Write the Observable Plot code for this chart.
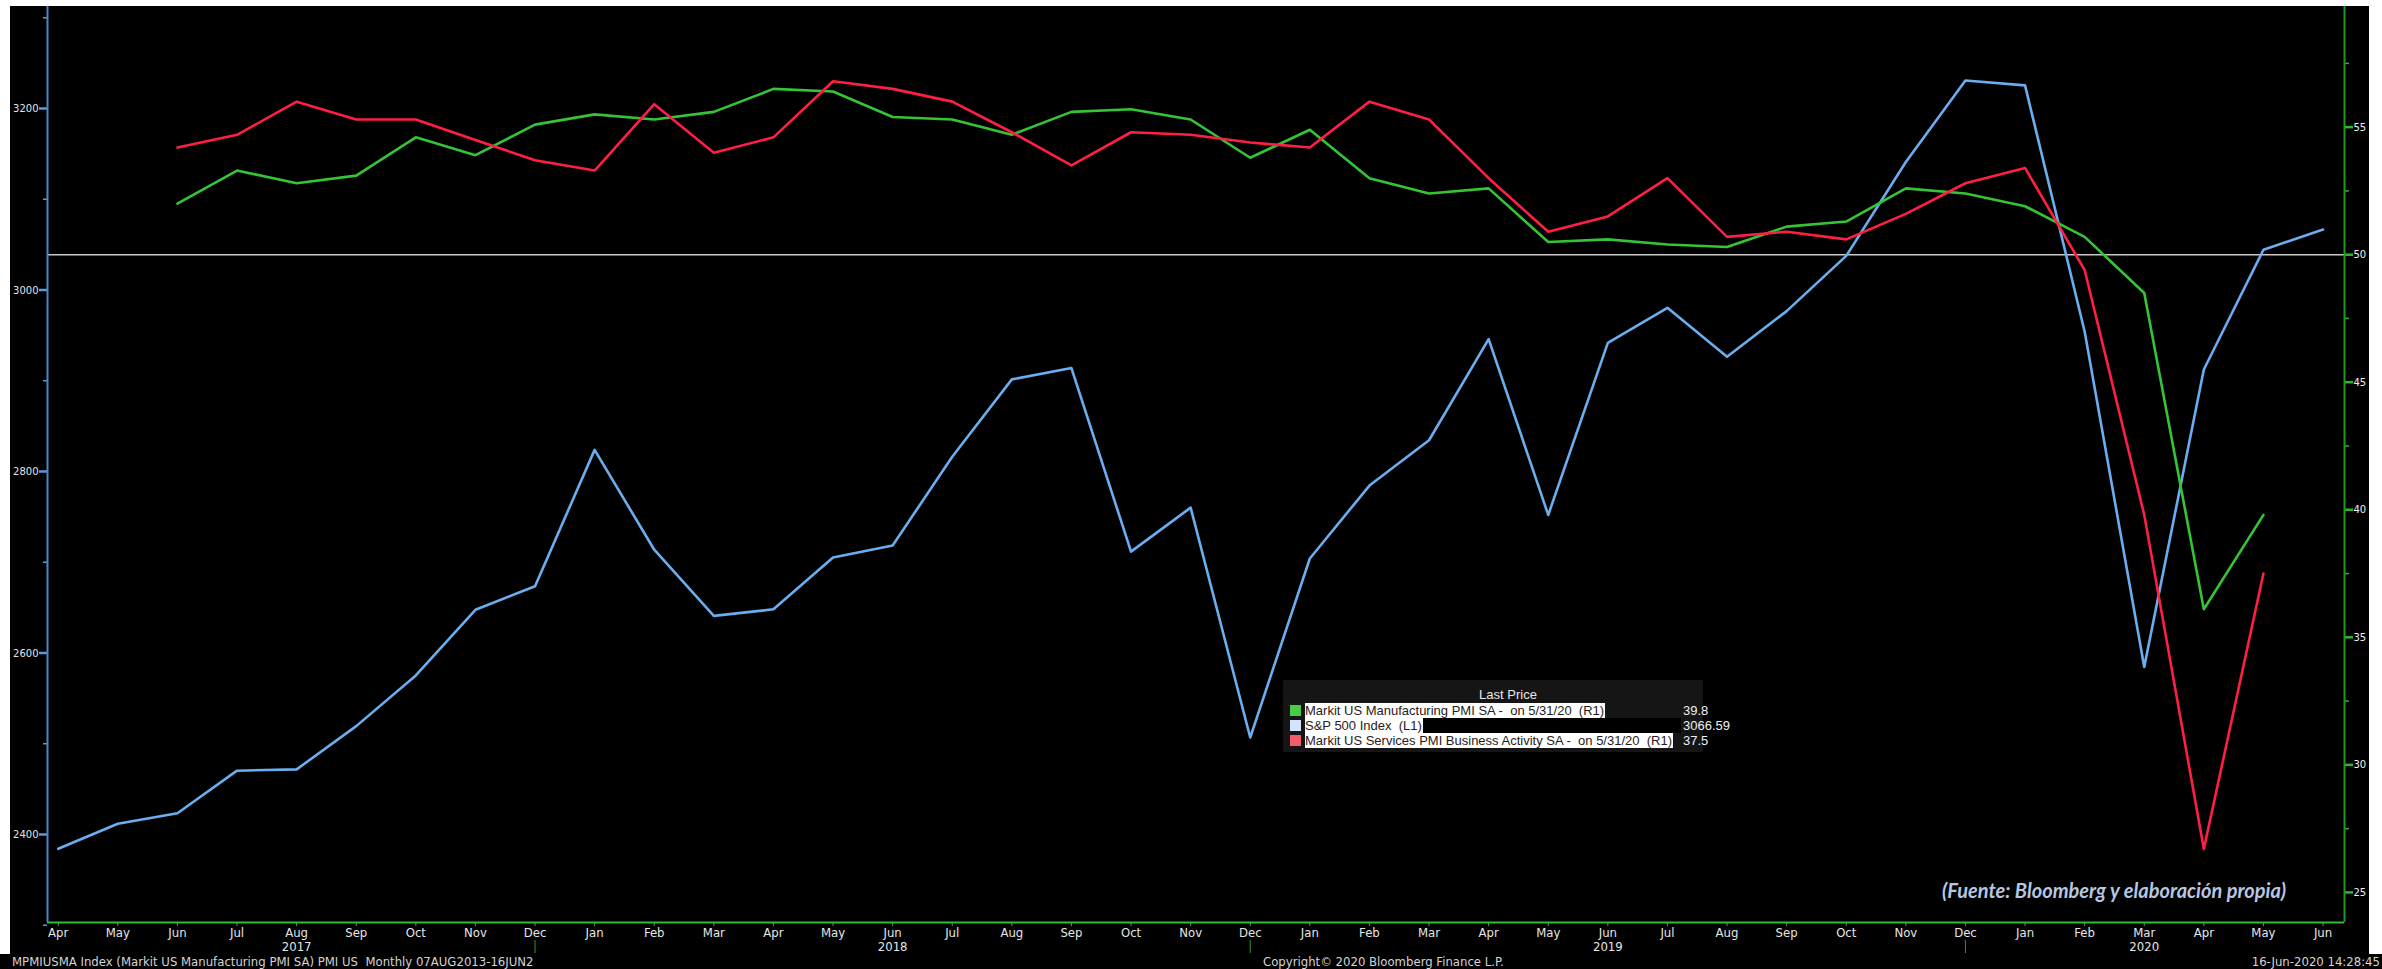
<!DOCTYPE html>
<html>
<head>
<meta charset="utf-8">
<script src="https://cdn.jsdelivr.net/npm/d3@7"></script>
<script src="https://cdn.jsdelivr.net/npm/@observablehq/plot@0.6"></script>
<style>
html,body{margin:0;padding:0;background:#fff;width:2382px;height:969px;overflow:hidden;}
#page{position:relative;width:2382px;height:969px;}
#bg{position:absolute;left:10px;top:6px;width:2359px;height:963px;background:#000;}
#foot{position:absolute;left:0;top:954px;width:2382px;height:15px;background:#000;}
#chart{position:absolute;left:10px;top:6px;}
.ft{position:absolute;top:954px;font-family:'Liberation Sans Narrow','DejaVu Sans Condensed',sans-serif;font-size:13px;color:#d4d4d4;white-space:pre;line-height:15px;}
#legend{position:absolute;left:1283px;top:680px;width:420px;height:72px;background:#151515;font-family:'Liberation Sans','Arial',sans-serif;font-size:13px;}
#legend .t{position:absolute;top:7px;left:0;width:450px;text-align:center;color:#e8e8e8;}
#legend .row{position:absolute;left:7px;height:15px;line-height:15px;white-space:pre;}
#legend .sq{position:absolute;left:0;top:2px;width:11px;height:11px;}
#legend .lab{position:absolute;left:15px;top:0;background:#fff;color:#2a1a22;padding-right:1px;}
#legend .blk{position:absolute;left:15px;top:0;width:376px;height:15px;background:#000;}
#legend .val{position:absolute;left:393px;top:0;color:#f0f0f0;}
#src{position:absolute;left:1942px;top:878px;font-family:Lato,'Open Sans',sans-serif;font-weight:bold;font-style:italic;font-size:20px;color:#b7c6e2;white-space:pre;}
</style>
</head>
<body>
<div id="page">
  <div id="bg"></div>
  <div id="foot"></div>
  <div id="chart"></div>
  <div id="legend"></div>
  <div id="src">(Fuente: Bloomberg y elaboración propia)</div>
  <div class="ft" style="left:12px;">MPMIUSMA Index (Markit US Manufacturing PMI SA) PMI US  Monthly 07AUG2013-16JUN2</div>
  <div class="ft" style="left:1263px;">Copyright© 2020 Bloomberg Finance L.P.</div>
  <div class="ft" style="right:2px;">16-Jun-2020 14:28:45</div>
</div>
<script>
// ---- data (Apr 2017 .. Jun 2020, monthly) ----
const monthLabels = ["Apr","May","Jun","Jul","Aug","Sep","Oct","Nov","Dec",
  "Jan","Feb","Mar","Apr","May","Jun","Jul","Aug","Sep","Oct","Nov","Dec",
  "Jan","Feb","Mar","Apr","May","Jun","Jul","Aug","Sep","Oct","Nov","Dec",
  "Jan","Feb","Mar","Apr","May","Jun"];
const yearLabels = ["2017","2018","2019","2020"];
const yearLabelIdx = [4, 14, 26, 35];
const yearBreakIdx = [8, 20, 32];

const sp500 = [2384.2, 2411.8, 2423.4, 2470.3, 2471.7, 2519.4, 2575.3, 2647.6, 2673.6,
  2823.8, 2713.8, 2640.9, 2648.1, 2705.3, 2718.4, 2816.3, 2901.5, 2914.0, 2711.7, 2760.2, 2506.9,
  2704.1, 2784.5, 2834.4, 2945.8, 2752.1, 2941.8, 2980.4, 2926.5, 2976.7, 3037.6, 3141.0, 3230.8,
  3225.5, 2954.2, 2584.6, 2912.4, 3044.3, 3066.59];
const pmiStart = 2; // Jun 2017
const mfgPMI = [52.0, 53.3, 52.8, 53.1, 54.6, 53.9, 55.1,
  55.5, 55.3, 55.6, 56.5, 56.4, 55.4, 55.3, 54.7, 55.6, 55.7, 55.3, 53.8,
  54.9, 53.0, 52.4, 52.6, 50.5, 50.6, 50.4, 50.3, 51.1, 51.3, 52.6, 52.4,
  51.9, 50.7, 48.5, 36.1, 39.8];
const servPMI = [54.2, 54.7, 56.0, 55.3, 55.3, 54.5, 53.7,
  53.3, 55.9, 54.0, 54.6, 56.8, 56.5, 56.0, 54.8, 53.5, 54.8, 54.7, 54.4,
  54.2, 56.0, 55.3, 53.0, 50.9, 51.5, 53.0, 50.7, 50.9, 50.6, 51.6, 52.8,
  53.4, 49.4, 39.8, 26.7, 37.5];

const leftTicks = [2400, 2600, 2800, 3000, 3200];
const leftMinor = [2300, 2500, 2700, 2900, 3100, 3300];
const rightTicks = [25, 30, 35, 40, 45, 50, 55];
const rightMinor = [27.5, 32.5, 37.5, 42.5, 47.5, 52.5, 57.5];
const pmiRef = 50;

// ---- scales ----
const xDomain = [-0.18, 38.36];
const yDomain = [2303, 3312.4];
const pmiDomain = [23.82, 59.73];
const conv = d3.scaleLinear().domain(pmiDomain).range(yDomain);

const idx = d3.range(monthLabels.length);
const spData = sp500.map((v, i) => ({i, v}));
const mfgData = mfgPMI.map((v, k) => ({i: k + pmiStart, v: conv(v)}));
const servData = servPMI.map((v, k) => ({i: k + pmiStart, v: conv(v)}));
const years = yearLabels.map((label, k) => ({i: yearLabelIdx[k], label}));

const narrow = "'Liberation Sans Narrow','DejaVu Sans Condensed',sans-serif";

// fit the y tick labels ("3200") into the ~26px gap left of the axis
const cv = document.createElement("canvas").getContext("2d");
cv.font = `14px ${narrow}`;
const w3200 = cv.measureText("3200").width;
const yFont = Math.min(14, 14 * 25.5 / w3200);

const chart = Plot.plot({
  width: 2359,
  height: 948,
  marginLeft: 37,
  marginRight: 25,
  marginTop: 0,
  marginBottom: 32,
  style: {background: "#000", color: "#e6e6e6", fontFamily: narrow, fontSize: "13px", overflow: "visible"},
  x: {type: "linear", domain: xDomain},
  y: {type: "linear", domain: yDomain},
  marks: [
    Plot.ruleY([conv(pmiRef)], {stroke: "#c9c9c9", strokeWidth: 1.5}),
    Plot.line(spData, {x: "i", y: "v", stroke: "#6aaef0", strokeWidth: 2.6}),
    Plot.line(mfgData, {x: "i", y: "v", stroke: "#35c435", strokeWidth: 2.6}),
    Plot.line(servData, {x: "i", y: "v", stroke: "#ff1f44", strokeWidth: 2.6}),
    // left axis
    Plot.axisY(leftTicks, {anchor: "left", tickSize: 8, tickPadding: 1, stroke: "#5a9be0", strokeWidth: 2.5,
      fill: "#dfe6f2", fontFamily: narrow, fontSize: yFont, label: null, tickFormat: d => String(d)}),
    Plot.axisY(leftMinor, {anchor: "left", tickSize: 4, stroke: "#5a9be0", strokeWidth: 1.5, tickFormat: () => "", label: null}),
    // right axis (PMI)
    Plot.axisY(rightTicks.map(conv), {anchor: "right", tickSize: 8, tickPadding: 1, stroke: "#2db82d", strokeWidth: 2.5,
      fill: "#f0f0f0", fontFamily: narrow, fontSize: yFont, label: null, tickFormat: d => d3.format(".0f")(conv.invert(d))}),
    Plot.axisY(rightMinor.map(conv), {anchor: "right", tickSize: 4, stroke: "#2db82d", strokeWidth: 1.5, tickFormat: () => "", label: null}),
    // bottom axis
    Plot.axisX(idx, {anchor: "bottom", tickSize: 4, tickPadding: 1, stroke: "#2db82d", fill: "#e6e6e6",
      fontSize: 13, label: null, tickFormat: i => monthLabels[i]}),
    Plot.text(years, {x: "i", text: "label", frameAnchor: "bottom", lineAnchor: "middle", dy: 24, fill: "#e6e6e6", fontSize: 13}),
    Plot.ruleX(yearBreakIdx, {stroke: "#2a9a2a", strokeWidth: 1, insetTop: 934, insetBottom: -31}),
    // frame lines
    Plot.ruleX([xDomain[0]], {stroke: "#4a86c8", strokeWidth: 2}),
    Plot.ruleX([xDomain[1]], {stroke: "#1f9a1f", strokeWidth: 2}),
    Plot.ruleY([yDomain[0]], {stroke: "#33bb33", strokeWidth: 2})
  ]
});
document.getElementById("chart").appendChild(chart);

// ---- legend ----
const legendItems = [
  {color: "#48cc48", label: "Markit US Manufacturing PMI SA -  on 5/31/20  (R1)", value: "39.8", blk: false},
  {color: "#d2e5f8", label: "S&P 500 Index  (L1)", value: "3066.59", blk: true},
  {color: "#f25a6e", label: "Markit US Services PMI Business Activity SA -  on 5/31/20  (R1)", value: "37.5", blk: false}
];
const lg = document.getElementById("legend");
const t = document.createElement("div");
t.className = "t"; t.textContent = "Last Price";
lg.appendChild(t);
legendItems.forEach((d, k) => {
  const r = document.createElement("div");
  r.className = "row";
  r.style.top = (23 + k * 15) + "px";
  r.innerHTML = `<div class="sq" style="background:${d.color}"></div>` +
    (d.blk ? `<div class="blk"></div>` : "") +
    `<span class="lab"></span><span class="val"></span>`;
  r.querySelector(".lab").textContent = d.label;
  r.querySelector(".val").textContent = d.value;
  lg.appendChild(r);
});
</script>
</body>
</html>
